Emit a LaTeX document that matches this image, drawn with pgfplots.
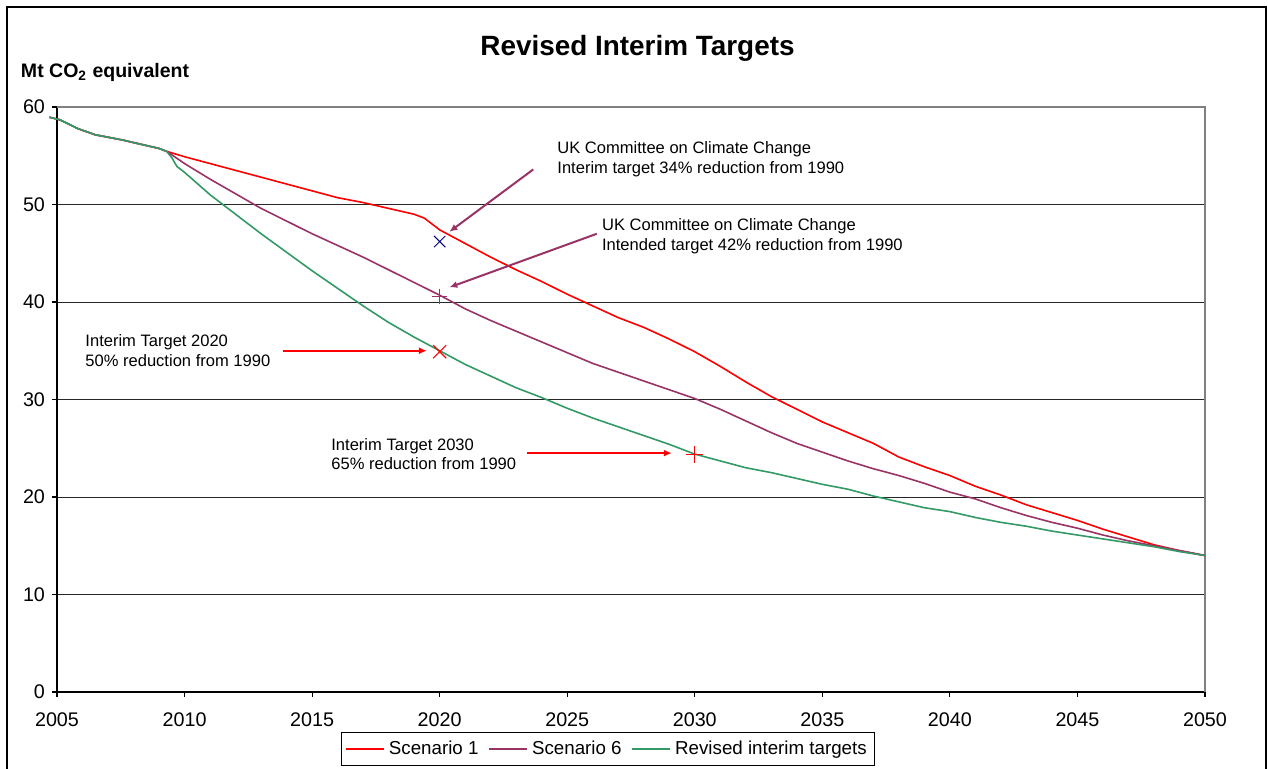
\documentclass[border=0pt]{standalone}
\usepackage{pgfplots}
\pgfplotsset{compat=1.18}
\usepackage{fontspec}
\setmainfont{Liberation Sans}
\usetikzlibrary{arrows.meta}
\definecolor{sred}{HTML}{FF0000}
\definecolor{spurple}{HTML}{993366}
\definecolor{sgreen}{HTML}{339966}
\definecolor{snavy}{HTML}{000080}

\pgfplotstableread{
x y
2004.7 58.95
2005.1 58.7
2005.5 58.2
2005.8 57.8
2006.5 57.15
2007 56.9
2007.6 56.6
2008 56.35
2009 55.75
2009.3 55.45
2010 54.9
2011 54.2
2012 53.5
2013 52.8
2014 52.1
2015 51.4
2016 50.7
2017 50.2
2018 49.6
2019 49.0
2019.4 48.6
2020 47.4
2021 46.0
2022 44.6
2023 43.3
2024 42.1
2025 40.8
2026 39.6
2027 38.4
2028 37.4
2029 36.2
2030 34.9
2031 33.4
2032 31.8
2033 30.3
2034 29.0
2035 27.7
2036 26.6
2037 25.5
2038 24.1
2039 23.1
2040 22.2
2041 21.1
2042 20.2
2043 19.2
2044 18.4
2045 17.6
2046 16.7
2047 15.9
2048 15.1
2049 14.5
2050 14.0
}\scenone

\pgfplotstableread{
x y
2004.7 58.95
2005.1 58.7
2005.5 58.2
2005.8 57.8
2006.5 57.15
2007 56.9
2007.6 56.6
2008 56.35
2009 55.75
2009.3 55.45
2010 54.2
2011 52.6
2012 51.1
2013 49.6
2014 48.3
2015 47.0
2016 45.8
2017 44.6
2018 43.3
2019 42.0
2020 40.7
2021 39.3
2022 38.1
2023 37.0
2024 35.9
2025 34.8
2026 33.7
2027 32.8
2028 31.9
2029 31.0
2030 30.1
2031 29.0
2032 27.8
2033 26.6
2034 25.5
2035 24.6
2036 23.7
2037 22.9
2038 22.2
2039 21.4
2040 20.5
2041 19.8
2042 18.9
2043 18.1
2044 17.4
2045 16.8
2046 16.1
2047 15.5
2048 15.0
2049 14.5
2050 14.0
}\scensix

\pgfplotstableread{
x y
2004.7 58.95
2005.1 58.7
2005.5 58.2
2005.8 57.8
2006.5 57.15
2007 56.9
2007.6 56.6
2008 56.35
2009 55.75
2009.3 55.45
2009.5 54.8
2009.7 53.9
2010 53.3
2011 51.0
2012 49.0
2013 47.0
2014 45.1
2015 43.2
2016 41.4
2017 39.6
2018 37.9
2019 36.4
2020 35.0
2021 33.6
2022 32.4
2023 31.2
2024 30.2
2025 29.1
2026 28.1
2027 27.2
2028 26.3
2029 25.4
2030 24.4
2031 23.7
2032 23.0
2033 22.5
2034 21.9
2035 21.3
2036 20.8
2037 20.1
2038 19.5
2039 18.9
2040 18.5
2041 17.9
2042 17.4
2043 17.0
2044 16.5
2045 16.1
2046 15.7
2047 15.3
2048 14.9
2049 14.4
2050 14.0
}\revised

\begin{document}
\begin{tikzpicture}
\useasboundingbox (0,0) rectangle (634bp,384.5bp);
\draw[line width=0.9bp, black] (3.5bp,0) -- (3.5bp,381bp) -- (633bp,381bp) -- (633bp,0);
\node[anchor=base, inner sep=0, font=\bfseries\fontsize{14}{16}\selectfont] at (318.75bp,356.5bp) {Revised Interim Targets};
\node[anchor=base west, inner sep=0, font=\bfseries\fontsize{9.8}{11}\selectfont] at (10.3bp,345.9bp) {Mt CO\textsubscript{2} equivalent};
\begin{axis}[
  at={(28.5bp,38.5bp)}, anchor=south west,
  scale only axis, width=574bp, height=292.5bp,
  xmin=2005, xmax=2050, ymin=0, ymax=60,
  xtick={2005,2010,...,2050}, ytick={0,10,...,60},
  axis lines*=left, axis line style={-, black, line width=0.6bp},
  tick align=outside, major tick length=2.5bp,
  tick style={black, line width=0.6bp},
  ymajorgrids, grid style={black!85, line width=0.5bp},
  /pgf/number format/assume math mode=true,
  /pgf/number format/1000 sep={},
  tick label style={font=\fontsize{9.9}{11}\selectfont},
  xticklabel style={yshift=-4.5bp},
  clip=false,
  legend style={at={(0.48,-0.0974)}, anchor=center, legend columns=3,
    draw=black, line width=0.5bp, font=\fontsize{9.4}{11}\selectfont,
    inner sep=2bp,
    /tikz/every even column/.append style={column sep=3bp}},
  legend image code/.code={\draw[#1, line width=0.8bp] (0bp,0bp) -- (19bp,0bp);},
]
\draw[black!50, line width=0.6bp] (axis cs:2005,60) -- (axis cs:2050,60) -- (axis cs:2050,0);
\addplot[sred, line width=0.8bp] table[x=x,y=y] {\scenone};
\addlegendentry{Scenario 1}
\addplot[spurple, line width=0.8bp] table[x=x,y=y] {\scensix};
\addlegendentry{Scenario 6}
\addplot[sgreen, line width=0.8bp] table[x=x,y=y] {\revised};
\addlegendentry{Revised interim targets}

\addplot[forget plot, only marks, mark=x, mark size=4bp, mark options={snavy, line width=0.5bp}] coordinates {(2020,46.2)};
\addplot[forget plot, only marks, mark=+, mark size=3.8bp, mark options={spurple, line width=0.6bp}] coordinates {(2020,40.6)};
\addplot[forget plot, only marks, mark=x, mark size=4.6bp, mark options={sred, line width=0.6bp}] coordinates {(2020,34.9)};
\addplot[forget plot, only marks, mark=+, mark size=4.3bp, mark options={sred, line width=0.6bp}] coordinates {(2030,24.4)};

\draw[spurple, line width=1bp, -{Latex[length=4bp,width=3.5bp]}] (axis cs:2023.67,53.6) -- (axis cs:2020.38,47.2);
\draw[spurple, line width=1bp, -{Latex[length=4bp,width=3.5bp]}] (axis cs:2026.16,47.0) -- (axis cs:2020.38,41.5);
\draw[sred, line width=1bp, -{Latex[length=4bp,width=3.5bp]}] (axis cs:2013.85,35.0) -- (axis cs:2019.5,35.0);
\draw[sred, line width=1bp, -{Latex[length=4bp,width=3.5bp]}] (axis cs:2023.42,24.5) -- (axis cs:2029.1,24.5);

\node[anchor=west, align=left, inner sep=0, font=\fontsize{8.3}{10}\selectfont] at (axis cs:2024.6,54.65) {UK Committee on Climate Change\\Interim target 34\% reduction from 1990};
\node[anchor=west, align=left, inner sep=0, font=\fontsize{8.3}{10}\selectfont] at (axis cs:2026.35,46.7) {UK Committee on Climate Change\\Intended target 42\% reduction from 1990};
\node[anchor=west, align=left, inner sep=0, font=\fontsize{8.3}{10}\selectfont] at (axis cs:2006.1,35.04) {Interim Target 2020\\50\% reduction from 1990};
\node[anchor=west, align=left, inner sep=0, font=\fontsize{8.3}{10}\selectfont] at (axis cs:2015.74,24.4) {Interim Target 2030\\65\% reduction from 1990};
\end{axis}
\end{tikzpicture}
\end{document}
